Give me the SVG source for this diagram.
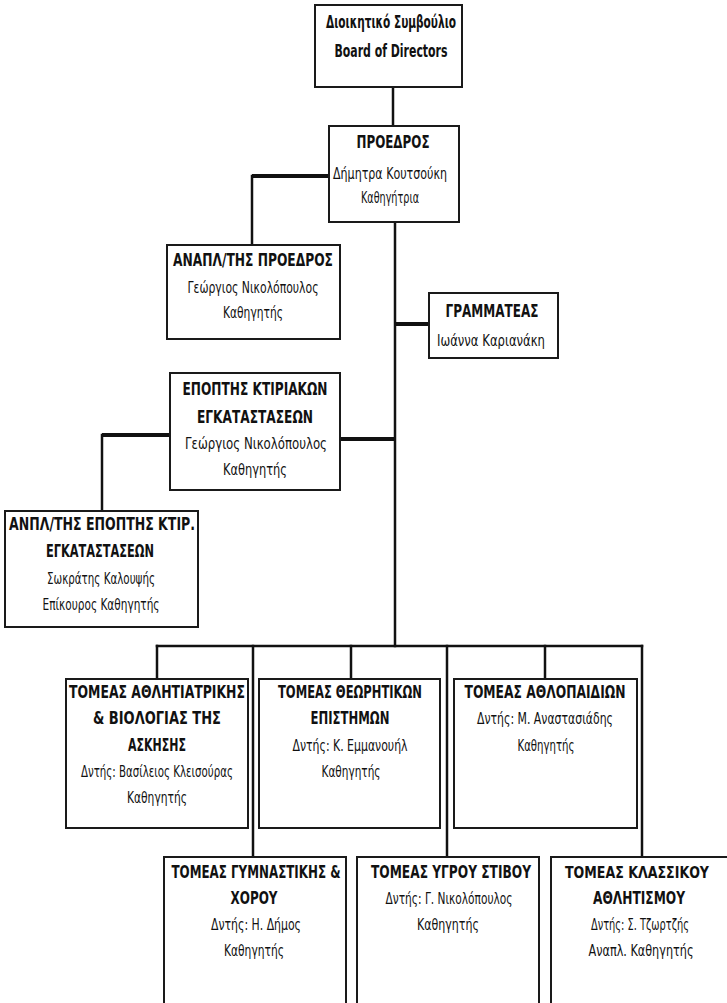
<svg xmlns="http://www.w3.org/2000/svg" width="727" height="1003" viewBox="0 0 727 1003">
<style>
.box{fill:#fff;stroke:#1a1a1a;stroke-width:2}
.b{font-family:"Liberation Sans Narrow","DejaVu Sans Condensed","Liberation Sans",sans-serif;font-weight:bold;font-size:17px;text-anchor:middle;fill:#111}
.r{font-family:"Liberation Sans Narrow","DejaVu Sans Condensed","Liberation Sans",sans-serif;font-weight:normal;font-size:16px;text-anchor:middle;fill:#111}
.bl{font-size:17px}
.rl{font-size:16px}
.sm{font-size:15px}
.c{fill:none;stroke:#111;stroke-width:2.5;stroke-linecap:square}
.ct{fill:none;stroke:#111;stroke-width:4}
</style>
<rect width="727" height="1003" fill="#fff"/>
<g id="connectors">
<path class="c" d="M393,87 V126"/>
<path class="ct" d="M329,176 H252"/>
<path class="c" d="M252,176 V245"/>
<path class="c" d="M395,222 V646"/>
<path class="ct" d="M395,324 H429"/>
<path class="ct" d="M340,439 H395"/>
<path class="ct" d="M170,435 H102"/>
<path class="c" d="M102,435 V511"/>
<path class="c" d="M157,646 H642"/>
<path class="c" d="M157,646 V679"/>
<path class="c" d="M351,646 V679"/>
<path class="c" d="M545,646 V679"/>
<path class="c" d="M253,646 V857"/>
<path class="c" d="M447,646 V857"/>
<path class="c" d="M642,646 V857"/>
</g>
<g id="board">
<rect class="box" x="315" y="5" width="147" height="82"/>
<text class="b" x="391" y="28" textLength="130" lengthAdjust="spacingAndGlyphs">Διοικητικό Συμβούλιο</text>
<text class="b" x="391" y="57" textLength="113" lengthAdjust="spacingAndGlyphs">Board of Directors</text>
</g>
<g id="president">
<rect class="box" x="329" y="126" width="130" height="96"/>
<text class="b" x="393" y="148" textLength="73" lengthAdjust="spacingAndGlyphs">ΠΡΟΕΔΡΟΣ</text>
<text class="r" x="390" y="179" textLength="114" lengthAdjust="spacingAndGlyphs">Δήμητρα Κουτσούκη</text>
<text class="r" x="390" y="203" textLength="58" lengthAdjust="spacingAndGlyphs">Καθηγήτρια</text>
</g>
<g id="vice-president">
<rect class="box" x="167" y="245" width="173" height="94"/>
<text class="b" x="253" y="266" textLength="160" lengthAdjust="spacingAndGlyphs">ΑΝΑΠΛ/ΤΗΣ ΠΡΟΕΔΡΟΣ</text>
<text class="r" x="253" y="293" textLength="131" lengthAdjust="spacingAndGlyphs">Γεώργιος Νικολόπουλος</text>
<text class="r" x="253" y="318" textLength="60" lengthAdjust="spacingAndGlyphs">Καθηγητής</text>
</g>
<g id="secretary">
<rect class="box" x="429" y="293" width="129" height="65"/>
<text class="b" x="492" y="317" textLength="93" lengthAdjust="spacingAndGlyphs">ΓΡΑΜΜΑΤΕΑΣ</text>
<text class="r" x="491" y="346" textLength="108" lengthAdjust="spacingAndGlyphs">Ιωάννα Καριανάκη</text>
</g>
<g id="facilities-supervisor">
<rect class="box" x="170" y="373" width="170" height="117"/>
<text class="b" x="255" y="395" textLength="145" lengthAdjust="spacingAndGlyphs">ΕΠΟΠΤΗΣ ΚΤΙΡΙΑΚΩΝ</text>
<text class="b" x="255" y="423" textLength="116" lengthAdjust="spacingAndGlyphs">ΕΓΚΑΤΑΣΤΑΣΕΩΝ</text>
<text class="r" x="256" y="449" textLength="142" lengthAdjust="spacingAndGlyphs">Γεώργιος Νικολόπουλος</text>
<text class="r" x="255" y="475" textLength="64" lengthAdjust="spacingAndGlyphs">Καθηγητής</text>
</g>
<g id="deputy-facilities-supervisor">
<rect class="box" x="5" y="511" width="193" height="116"/>
<text class="b" x="102" y="530" textLength="186" lengthAdjust="spacingAndGlyphs">ΑΝΠΛ/ΤΗΣ ΕΠΟΠΤΗΣ ΚΤΙΡ.</text>
<text class="b" x="100" y="557" textLength="108" lengthAdjust="spacingAndGlyphs">ΕΓΚΑΤΑΣΤΑΣΕΩΝ</text>
<text class="r" x="101" y="584" textLength="108" lengthAdjust="spacingAndGlyphs">Σωκράτης Καλουψής</text>
<text class="r" x="101" y="610" textLength="117" lengthAdjust="spacingAndGlyphs">Επίκουρος Καθηγητής</text>
</g>
<g id="sector-sports-medicine">
<rect class="box" x="66" y="679" width="182" height="149"/>
<text class="b" x="157" y="698" textLength="176" lengthAdjust="spacingAndGlyphs">ΤΟΜΕΑΣ ΑΘΛΗΤΙΑΤΡΙΚΗΣ</text>
<text class="b" x="157" y="724" textLength="128" lengthAdjust="spacingAndGlyphs">&amp; ΒΙΟΛΟΓΙΑΣ ΤΗΣ</text>
<text class="b" x="157" y="751" textLength="58" lengthAdjust="spacingAndGlyphs">ΑΣΚΗΣΗΣ</text>
<text class="r" x="157" y="777" textLength="152" lengthAdjust="spacingAndGlyphs">Δντής: Βασίλειος Κλεισούρας</text>
<text class="r" x="157" y="803" textLength="60" lengthAdjust="spacingAndGlyphs">Καθηγητής</text>
</g>
<g id="sector-theoretical">
<rect class="box" x="259" y="679" width="181" height="149"/>
<text class="b" x="350" y="698" textLength="144" lengthAdjust="spacingAndGlyphs">ΤΟΜΕΑΣ ΘΕΩΡΗΤΙΚΩΝ</text>
<text class="b" x="350" y="724" textLength="79" lengthAdjust="spacingAndGlyphs">ΕΠΙΣΤΗΜΩΝ</text>
<text class="r" x="350" y="751" textLength="115" lengthAdjust="spacingAndGlyphs">Δντής: Κ. Εμμανουήλ</text>
<text class="r" x="351" y="777" textLength="59" lengthAdjust="spacingAndGlyphs">Καθηγητής</text>
</g>
<g id="sector-team-sports">
<rect class="box" x="454" y="679" width="183" height="149"/>
<text class="b" x="545" y="698" textLength="161" lengthAdjust="spacingAndGlyphs">ΤΟΜΕΑΣ ΑΘΛΟΠΑΙΔΙΩΝ</text>
<text class="r" x="545" y="724" textLength="136" lengthAdjust="spacingAndGlyphs">Δντής: Μ. Αναστασιάδης</text>
<text class="r" x="546" y="751" textLength="57" lengthAdjust="spacingAndGlyphs">Καθηγητής</text>
</g>
<g id="sector-gymnastics">
<rect class="box" x="164" y="857" width="182" height="160"/>
<text class="b bl" x="256" y="878" textLength="169" lengthAdjust="spacingAndGlyphs">ΤΟΜΕΑΣ ΓΥΜΝΑΣΤΙΚΗΣ &amp;</text>
<text class="b bl" x="254" y="904" textLength="47" lengthAdjust="spacingAndGlyphs">ΧΟΡΟΥ</text>
<text class="r rl" x="256" y="930" textLength="90" lengthAdjust="spacingAndGlyphs">Δντής: Η. Δήμος</text>
<text class="r rl" x="254" y="956" textLength="60" lengthAdjust="spacingAndGlyphs">Καθηγητής</text>
</g>
<g id="sector-track-field">
<rect class="box" x="357" y="857" width="182" height="160"/>
<text class="b bl" x="451" y="878" textLength="160" lengthAdjust="spacingAndGlyphs">ΤΟΜΕΑΣ ΥΓΡΟΥ ΣΤΙΒΟΥ</text>
<text class="r rl" x="449" y="904" textLength="127" lengthAdjust="spacingAndGlyphs">Δντής: Γ. Νικολόπουλος</text>
<text class="r rl" x="448" y="930" textLength="62" lengthAdjust="spacingAndGlyphs">Καθηγητής</text>
</g>
<g id="sector-classical">
<rect class="box" x="551" y="857" width="184" height="160"/>
<text class="b sm" x="637" y="878" textLength="144" lengthAdjust="spacingAndGlyphs">ΤΟΜΕΑΣ ΚΛΑΣΣΙΚΟΥ</text>
<text class="b bl" x="639" y="904" textLength="92" lengthAdjust="spacingAndGlyphs">ΑΘΛΗΤΙΣΜΟΥ</text>
<text class="r sm" x="640" y="930" textLength="98" lengthAdjust="spacingAndGlyphs">Δντής: Σ. Τζωρτζής</text>
<text class="r rl" x="641" y="956" textLength="105" lengthAdjust="spacingAndGlyphs">Αναπλ. Καθηγητής</text>
</g>
</svg>
